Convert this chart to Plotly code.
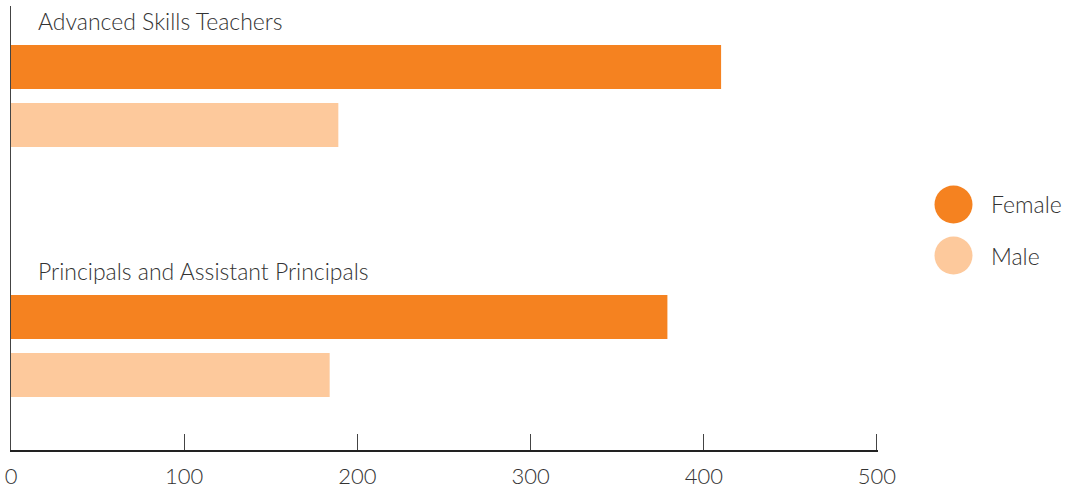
import plotly.graph_objects as go

# Staff counts by role and gender
categories = ["Advanced Skills Teachers", "Principals and Assistant Principals"]
female = [410, 379]
male = [189, 184]
x_ticks = [0, 100, 200, 300, 400, 500]

FEMALE_COLOR = "#F58220"
MALE_COLOR = "#FDC99C"
TEXT_COLOR = "#333333"
FONT = "Lato"

fig = go.Figure()
fig.add_trace(go.Bar(y=categories, x=female, name="Female", orientation="h",
                     marker=dict(color=FEMALE_COLOR, line=dict(width=0)),
                     showlegend=False))
fig.add_trace(go.Bar(y=categories, x=male, name="Male", orientation="h",
                     marker=dict(color=MALE_COLOR, line=dict(width=0)),
                     showlegend=False))

# Group titles sit above each pair of bars
for cat in categories:
    fig.add_annotation(x=0, xref="paper", xanchor="left", xshift=25,
                       y=cat, yref="y", yshift=75, yanchor="middle",
                       text=cat, showarrow=False,
                       font=dict(family=FONT, size=23, color=TEXT_COLOR, weight=300))

# Legend drawn as round swatches with labels
legend_items = [("Female", FEMALE_COLOR), ("Male", MALE_COLOR)]
margin_l, margin_r = 11, 188
plot_w = 1066 - margin_l - margin_r
plot_h = 490 - 6 - 40
for i, (label, color) in enumerate(legend_items):
    cy = 1 - (204.5 + 51 * i - 6) / plot_h
    cx = (953.5 - margin_l) / plot_w
    fig.add_shape(type="circle", xref="paper", yref="paper",
                  xsizemode="pixel", ysizemode="pixel",
                  xanchor=cx, yanchor=cy, x0=-19, x1=19, y0=-19, y1=19,
                  fillcolor=color, line=dict(width=0))
    fig.add_annotation(x=(989 - margin_l) / plot_w, xref="paper", xanchor="left",
                       y=cy, yref="paper", yanchor="middle",
                       text=label, showarrow=False,
                       font=dict(family=FONT, size=23, color=TEXT_COLOR, weight=300))

fig.update_layout(
    width=1066, height=490,
    margin=dict(l=margin_l, r=margin_r, t=6, b=40, autoexpand=False),
    paper_bgcolor="white", plot_bgcolor="white",
    barmode="group", bargap=0.536, bargroupgap=0.241,
    showlegend=False,
    font=dict(family=FONT, color=TEXT_COLOR),
)
# Range runs a hair past 500 so the end tick is drawn
fig.update_xaxes(range=[0, 500.6], tickvals=x_ticks, ticktext=[str(v) for v in x_ticks],
                 showgrid=False, zeroline=False, automargin=False,
                 showline=True, linecolor="#222222", linewidth=1.5,
                 ticks="inside", ticklen=16, tickcolor="#444444", tickwidth=1,
                 ticklabelstandoff=6,
                 tickfont=dict(family=FONT, size=22, color=TEXT_COLOR, weight=300),
                 fixedrange=True)
fig.update_yaxes(range=[1.416, -0.36], showticklabels=False, showgrid=False,
                 zeroline=False, showline=True, linecolor="#444444", linewidth=1,
                 ticks="", automargin=False, fixedrange=True)

fig.write_html("out.html")
